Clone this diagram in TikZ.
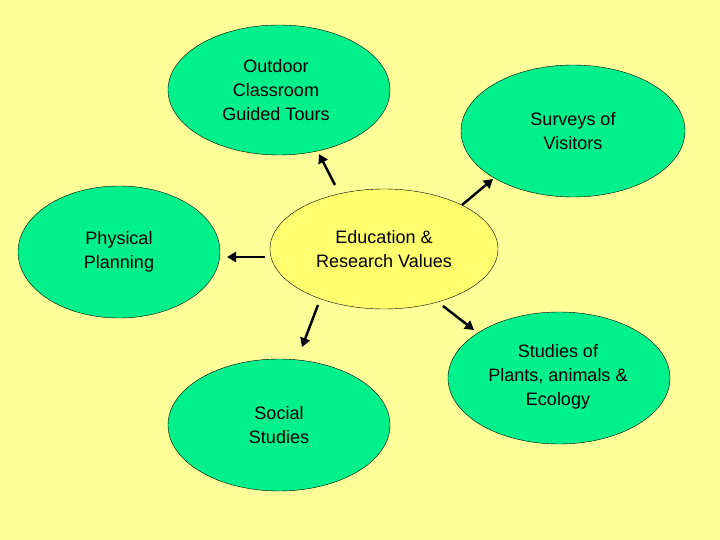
\documentclass[tikz,border=0pt]{standalone}
\usepackage{fontspec}
\setmainfont{Liberation Sans}
\usetikzlibrary{shapes.geometric,arrows.meta}
\definecolor{bg}{RGB}{255,255,153}
\definecolor{gr}{RGB}{0,240,140}
\definecolor{cy}{RGB}{255,255,110}
\begin{document}
\begin{tikzpicture}[x=1pt,y=-1pt,
  el/.style={ellipse,draw=black,fill=gr,minimum width=#1,align=center,inner sep=0pt,font=\fontsize{18}{24}\selectfont},
  ar/.style={line width=2.5pt,-{Triangle[length=9pt,width=10pt]}}]
\fill[bg] (0,0) rectangle (720,540);
\node[el=222pt,minimum height=130pt] (o) at (279,90) {};
\node[align=center,font=\fontsize{18}{24}\selectfont] (ot) at (276,90) {Outdoor\\Classroom\\Guided Tours};
\node[el=224pt,minimum height=132pt] (s) at (573,131) {Surveys of\\Visitors};
\node[el=202pt,minimum height=132pt] (p) at (119,252) {Physical\\Planning};
\node[el=228pt,minimum height=120pt,fill=cy] (e) at (384,249) {Education \&\\Research Values};
\node[el=222pt,minimum height=132pt] (so) at (279,425) {Social\\Studies};
\node[el=222pt,minimum height=132pt] (st) at (559,378) {};
\node[align=center,font=\fontsize{18}{24}\selectfont] (stt) at (558,377) {Studies of\\Plants, animals \&\\Ecology};
\coordinate (a1) at (335,185); \coordinate (b1) at (319,154);
\coordinate (a2) at (462,205); \coordinate (b2) at (493,179);
\coordinate (a3) at (265,257); \coordinate (b3) at (227,257);
\coordinate (a4) at (318,305); \coordinate (b4) at (302,347);
\coordinate (a5) at (443,306); \coordinate (b5) at (474,330);
\draw[ar] (a1) -- (b1);
\draw[ar] (a2) -- (b2);
\draw[ar] (a3) -- (b3);
\draw[ar] (a4) -- (b4);
\draw[ar] (a5) -- (b5);
\end{tikzpicture}
\end{document}
